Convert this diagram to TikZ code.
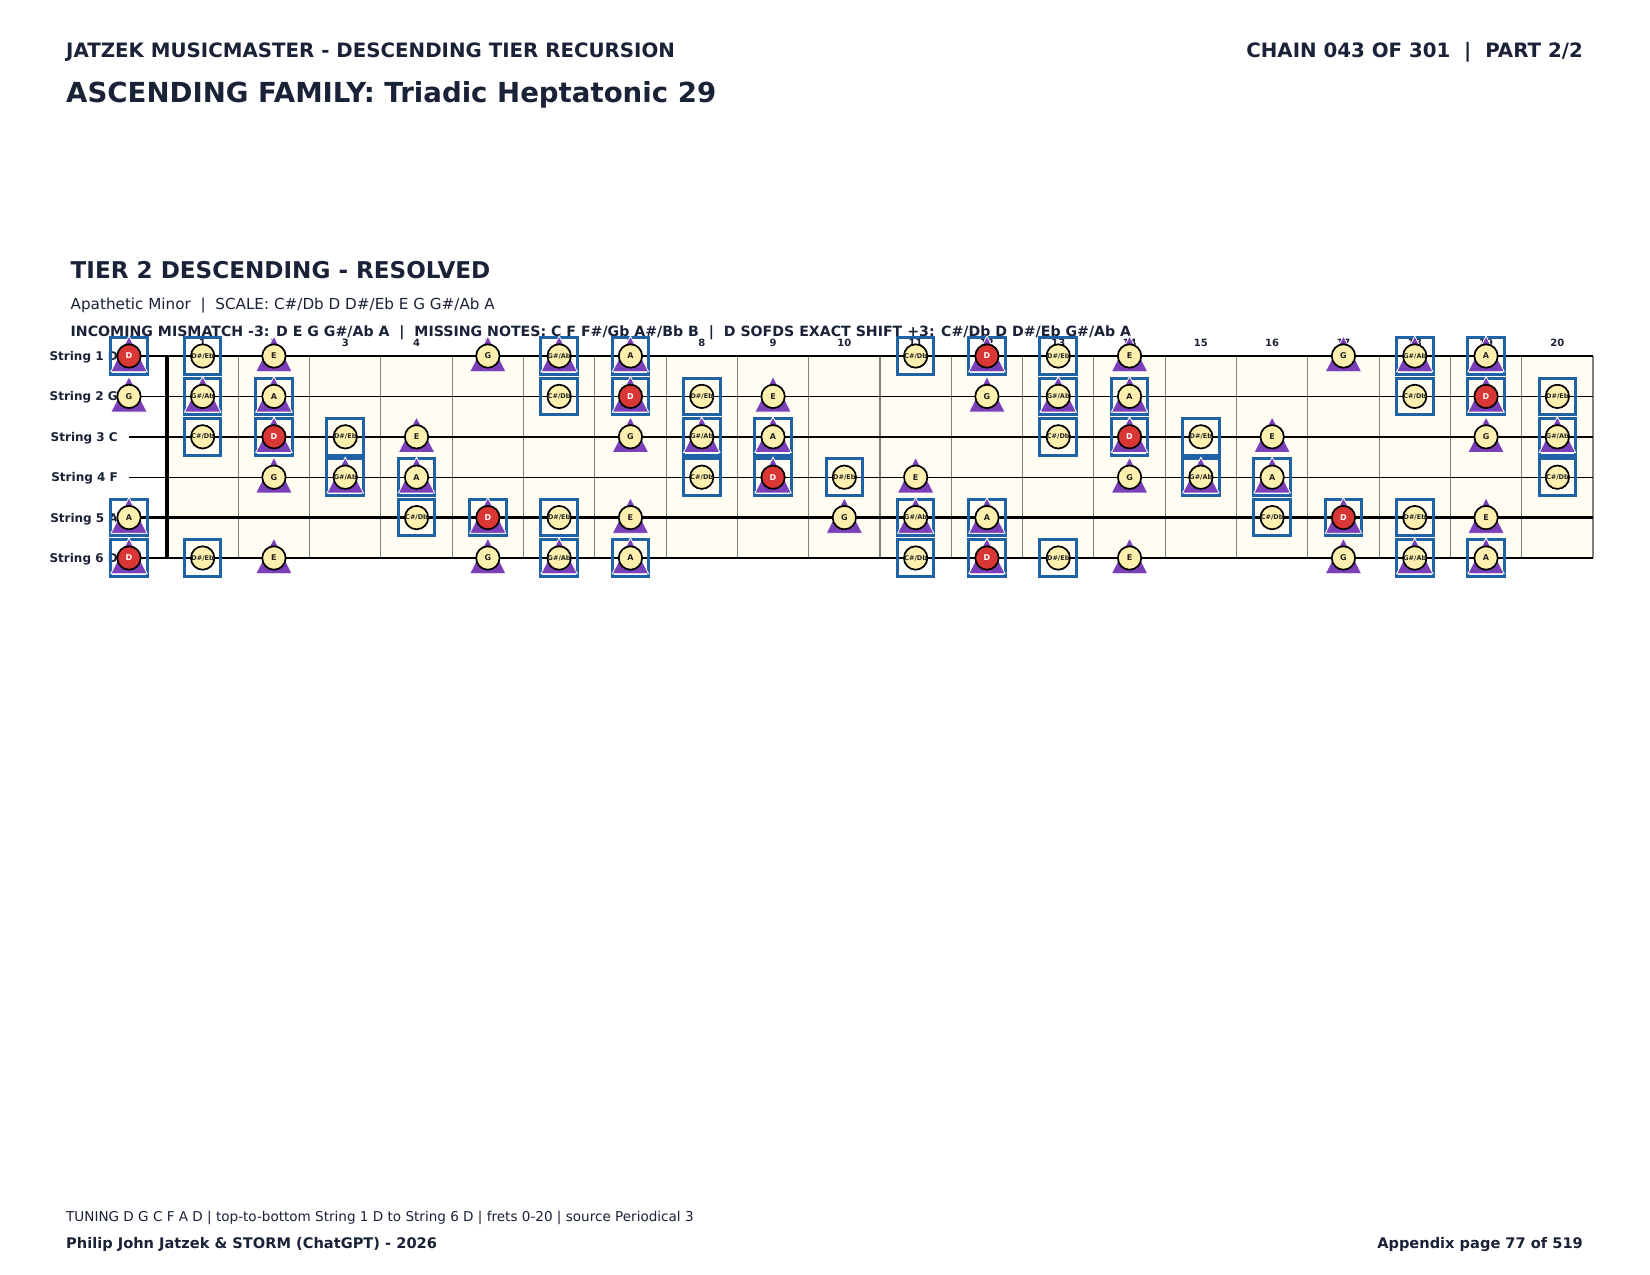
\documentclass[tikz,border=0pt]{standalone}
\usepackage{fontspec}
\setmainfont{DejaVu Sans}
\definecolor{navy}{HTML}{1A2238}
\definecolor{boxblue}{HTML}{1F63A6}
\definecolor{tripurple}{HTML}{7B3FB8}
\definecolor{notecream}{HTML}{FDF0AE}
\definecolor{notered}{HTML}{D93636}
\definecolor{boardbg}{HTML}{FFFDF2}
\definecolor{fretgray}{HTML}{808080}
\definecolor{notetext}{HTML}{222222}
% note data by pitch class: box flag, triangle flag, red flag, label, size
\newcommand\jzset[1]{%
  \ifcase#1\relax
    \def\jzon{0}%
  \or\def\jzon{1}\def\jzbox{1}\def\jztri{0}\def\jzred{0}\def\jzl{C\#/Db}\def\jzsz{6.5}%
  \or\def\jzon{1}\def\jzbox{1}\def\jztri{1}\def\jzred{1}\def\jzl{D}\def\jzsz{8}%
  \or\def\jzon{1}\def\jzbox{1}\def\jztri{0}\def\jzred{0}\def\jzl{D\#/Eb}\def\jzsz{6.5}%
  \or\def\jzon{1}\def\jzbox{0}\def\jztri{1}\def\jzred{0}\def\jzl{E}\def\jzsz{8}%
  \or\def\jzon{0}%
  \or\def\jzon{0}%
  \or\def\jzon{1}\def\jzbox{0}\def\jztri{1}\def\jzred{0}\def\jzl{G}\def\jzsz{8}%
  \or\def\jzon{1}\def\jzbox{1}\def\jztri{1}\def\jzred{0}\def\jzl{G\#/Ab}\def\jzsz{6.5}%
  \or\def\jzon{1}\def\jzbox{1}\def\jztri{1}\def\jzred{0}\def\jzl{A}\def\jzsz{8}%
  \or\def\jzon{0}%
  \or\def\jzon{0}%
  \fi}
\begin{document}
\begin{tikzpicture}[x=1pt,y=-1pt,
  txt/.style={inner sep=0pt, text=navy},
  fretline/.style={draw=fretgray, line width=1.1pt},
  nutline/.style={draw=black, line width=4.7pt},
  notebox/.style={draw=boxblue, line width=3pt, rectangle, minimum width=36.6pt, minimum height=36.6pt, inner sep=0pt},
  tri/.style={fill=tripurple, draw=white, line width=0.8pt},
  notecirc/.style={circle, draw=black, line width=1.7pt, minimum size=23.4pt, inner sep=0pt},
  fretnum/.style={txt, anchor=base, font=\bfseries\fontsize{10}{12}\selectfont},
  strlabel/.style={txt, anchor=base east, font=\bfseries\fontsize{12}{14}\selectfont}]
\useasboundingbox (0,0) rectangle (1650,1275);
\fill[white] (0,0) rectangle (1650,1275);
% header texts
\node[txt, anchor=base west, font=\bfseries\fontsize{19.8}{24}\selectfont] (hdr) at (66,57) {JATZEK MUSICMASTER - DESCENDING TIER RECURSION};
\node[txt, anchor=base east, font=\bfseries\fontsize{19.8}{24}\selectfont] (chain) at (1583,57) {CHAIN 043 OF 301\ \ |\ \ PART 2/2};
\node[txt, anchor=base west, font=\bfseries\fontsize{27.6}{32}\selectfont] (title) at (66,102) {ASCENDING FAMILY: Triadic Heptatonic 29};
\node[txt, anchor=base west, font=\bfseries\fontsize{23.1}{27}\selectfont] (tier) at (70.5,278) {TIER 2 DESCENDING - RESOLVED};
\node[txt, anchor=base west, font=\fontsize{15.2}{18}\selectfont] (scale) at (70.5,309) {Apathetic Minor\ \ |\ \ SCALE: C\#/Db D D\#/Eb E G G\#/Ab A};
\node[txt, anchor=base west, font=\bfseries\fontsize{14.15}{17}\selectfont] (info) at (70.5,336) {INCOMING MISMATCH -3: D E G G\#/Ab A\ \ |\ \ MISSING NOTES: C F F\#/Gb A\#/Bb B\ \ |\ \ D SOFDS EXACT SHIFT +3: C\#/Db D D\#/Eb G\#/Ab A};
% footer texts
\node[txt, anchor=base west, font=\fontsize{13.55}{16}\selectfont] (tuning) at (66,1221) {TUNING D G C F A D | top-to-bottom String 1 D to String 6 D | frets 0-20 | source Periodical 3};
\node[txt, anchor=base west, font=\bfseries\fontsize{14.6}{17}\selectfont] (author) at (66,1248) {Philip John Jatzek \& STORM (ChatGPT) - 2026};
\node[txt, anchor=base east, font=\bfseries\fontsize{14.6}{17}\selectfont] (page) at (1583,1248) {Appendix page 77 of 519};
% board
\fill[boardbg] (167,356) rectangle (1593,558);
\foreach \k in {1,...,20}
  \draw[fretline] ({167+71.3*\k},356) -- ({167+71.3*\k},558);
\foreach \s/\w in {1/1.3,2/1.3,3/2.4,4/1.3,5/2.4,6/1.3}
  \draw[line width=\w pt] (129,{356+40.4*(\s-1)}) -- (1593,{356+40.4*(\s-1)});
\draw[nutline] (167,356) -- (167,558);
% fret numbers
\foreach \f in {1,...,20}
  \node[fretnum] (fn\f) at ({131.35+71.3*\f},346.8) {\f};
% string labels
\foreach \s/\n in {1/D,2/G,3/C,4/F,5/A,6/D}
  \node[strlabel] (sl\s) at (118,{360.4+40.4*(\s-1)}) {String \s\ \n};
% notes
\foreach \s/\o in {1/2,2/7,3/0,4/5,5/9,6/2}{
  \foreach \f in {0,...,20}{
    \pgfmathtruncatemacro\pc{mod(\o+\f,12)}
    \jzset{\pc}
    \ifnum\jzon=1
      \ifnum\f=0 \def\xx{129}\else\pgfmathsetmacro\xx{131.35+71.3*\f}\fi
      \pgfmathsetmacro\yy{356+40.4*(\s-1)}
      \ifnum\jzbox=1 \node[notebox] (b\s-\f) at (\xx,\yy) {};\fi
      \ifnum\jztri=1 \filldraw[tri] (\xx,\yy) ++(0,-20) -- ++(18.2,35.7) -- ++(-36.4,0) -- cycle;\fi
      \ifnum\jzred=1
        \node[notecirc, fill=notered, text=white, font=\bfseries\fontsize{\jzsz}{9}\selectfont] (c\s-\f) at (\xx,\yy) {\jzl};
      \else
        \node[notecirc, fill=notecream, text=notetext, font=\bfseries\fontsize{\jzsz}{9}\selectfont] (c\s-\f) at (\xx,\yy) {\jzl};
      \fi
    \fi
  }
}
\end{tikzpicture}
\end{document}
